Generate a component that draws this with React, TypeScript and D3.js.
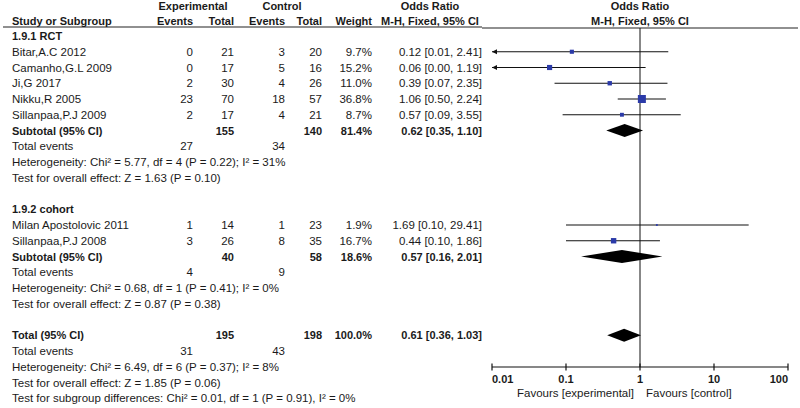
import React from "react";
import * as d3 from "d3";

// ---------- data ----------
const studyNames = [
  "Bitar,A.C 2012",
  "Camanho,G.L 2009",
  "Ji,G 2017",
  "Nikku,R 2005",
  "Sillanpaa,P.J 2009",
  "Milan Apostolovic 2011",
  "Sillanpaa,P.J 2008",
];
const studyGroup = [0, 0, 0, 0, 0, 1, 1];
const expEvents = [0, 0, 2, 23, 2, 1, 3];
const expTotals = [21, 17, 30, 70, 17, 14, 26];
const ctlEvents = [3, 5, 4, 18, 4, 1, 8];
const ctlTotals = [20, 16, 26, 57, 21, 23, 35];
const weights = [9.7, 15.2, 11.0, 36.8, 8.7, 1.9, 16.7];
const oddsRatios = [0.12, 0.06, 0.39, 1.06, 0.57, 1.69, 0.44];
const ciLower = [0.01, 0.0, 0.07, 0.5, 0.09, 0.1, 0.1];
const ciUpper = [2.41, 1.19, 2.35, 2.24, 3.55, 29.41, 1.86];

const groupLabels = ["1.9.1 RCT", "1.9.2 cohort"];
const subExpTotals = [155, 40];
const subCtlTotals = [140, 58];
const subWeights = [81.4, 18.6];
const subOR = [0.62, 0.57];
const subLower = [0.35, 0.16];
const subUpper = [1.1, 2.01];
const subExpEvents = [27, 4];
const subCtlEvents = [34, 9];
const subHeterogeneity = [
  "Heterogeneity: Chi² = 5.77, df = 4 (P = 0.22); I² = 31%",
  "Heterogeneity: Chi² = 0.68, df = 1 (P = 0.41); I² = 0%",
];
const subOverall = [
  "Test for overall effect: Z = 1.63 (P = 0.10)",
  "Test for overall effect: Z = 0.87 (P = 0.38)",
];

const totalExpTotal = 195;
const totalCtlTotal = 198;
const totalWeight = 100.0;
const totalOR = 0.61;
const totalLower = 0.36;
const totalUpper = 1.03;
const totalExpEvents = 31;
const totalCtlEvents = 43;
const totalHeterogeneity = "Heterogeneity: Chi² = 6.49, df = 6 (P = 0.37); I² = 8%";
const totalOverall = "Test for overall effect: Z = 1.85 (P = 0.06)";
const subgroupDiff = "Test for subgroup differences: Chi² = 0.01, df = 1 (P = 0.91), I² = 0%";

const axisTicks = [0.01, 0.1, 1, 10, 100];
const axisTickLabels = ["0.01", "0.1", "1", "10", "100"];
const favoursLeft = "Favours [experimental]";
const favoursRight = "Favours [control]";

// ---------- layout ----------
const W = 800;
const H = 408;
const FONT = "'Liberation Sans', Arial, sans-serif";
const FS = 11.5;
const FSB = 11;
const TXT = "#1a1a1a";
const SQ = "#2b3aa8";

const x = d3.scaleLog().domain([0.01, 100]).range([492, 788]);
const rowY = (i: number) => 36 + 15.75 * i;
const base = (i: number) => rowY(i) + 4;

const COL = { name: 12, expEv: 193, expTot: 234, ctlEv: 285, ctlTot: 322, weight: 372, ci: 482 };

const fmtCI = (o: number, l: number, u: number) =>
  `${o.toFixed(2)} [${l.toFixed(2)}, ${u.toFixed(2)}]`;

type Row =
  | { kind: "group"; g: number }
  | { kind: "study"; s: number }
  | { kind: "subtotal"; g: number }
  | { kind: "events"; e: number; c: number }
  | { kind: "text"; t: string }
  | { kind: "total" }
  | { kind: "blank" };

function buildRows(): Row[] {
  const rows: Row[] = [];
  groupLabels.forEach((_, g) => {
    rows.push({ kind: "group", g });
    studyNames.forEach((_, s) => {
      if (studyGroup[s] === g) rows.push({ kind: "study", s });
    });
    rows.push({ kind: "subtotal", g });
    rows.push({ kind: "events", e: subExpEvents[g], c: subCtlEvents[g] });
    rows.push({ kind: "text", t: subHeterogeneity[g] });
    rows.push({ kind: "text", t: subOverall[g] });
    rows.push({ kind: "blank" });
  });
  rows.push({ kind: "total" });
  rows.push({ kind: "events", e: totalExpEvents, c: totalCtlEvents });
  rows.push({ kind: "text", t: totalHeterogeneity });
  rows.push({ kind: "text", t: totalOverall });
  rows.push({ kind: "text", t: subgroupDiff });
  return rows;
}

function Diamond({ y, o, l, u }: { y: number; o: number; l: number; u: number }) {
  const h = 6.5;
  const d = `M${x(l)},${y} L${x(o)},${y - h} L${x(u)},${y} L${x(o)},${y + h} Z`;
  return <path d={d} fill="#000" />;
}

const T = (props: any) => (
  <text fontFamily={FONT} fontSize={FS} fill={TXT} {...props} />
);
const B = (props: any) => (
  <text fontFamily={FONT} fontSize={FSB} fontWeight="bold" fill={TXT} {...props} />
);

export default function App() {
  const rows = buildRows();
  const [xMin] = x.domain();

  return (
    <svg
      width={W}
      height={H}
      style={{ position: "absolute", left: 0, top: 0, background: "#fff" }}
    >
      <rect width={W} height={H} fill="#fff" />
      {/* headers */}
      <B x={193} y={10} textAnchor="middle">Experimental</B>
      <B x={282} y={10} textAnchor="middle">Control</B>
      <B x={430} y={10} textAnchor="middle">Odds Ratio</B>
      <B x={640} y={10} textAnchor="middle">Odds Ratio</B>
      <B x={COL.name} y={24.5}>Study or Subgroup</B>
      <B x={COL.expEv} y={24.5} textAnchor="end">Events</B>
      <B x={COL.expTot} y={24.5} textAnchor="end">Total</B>
      <B x={COL.ctlEv} y={24.5} textAnchor="end">Events</B>
      <B x={COL.ctlTot} y={24.5} textAnchor="end">Total</B>
      <B x={COL.weight} y={24.5} textAnchor="end">Weight</B>
      <B x={430} y={24.5} textAnchor="middle">M-H, Fixed, 95% CI</B>
      <B x={640} y={24.5} textAnchor="middle">M-H, Fixed, 95% CI</B>
      <line x1={3} x2={482} y1={27} y2={27} stroke="#222" strokeWidth={1.2} />
      <line x1={482} x2={798} y1={28} y2={28} stroke="#222" strokeWidth={1.2} />

      {/* vertical null line */}
      <line x1={x(1)} x2={x(1)} y1={28} y2={367} stroke="#111" strokeWidth={1} />

      {rows.map((r, i) => {
        const y = rowY(i);
        const b = base(i);
        if (r.kind === "group")
          return (
            <B key={i} x={COL.name} y={b}>{groupLabels[r.g]}</B>
          );
        if (r.kind === "study") {
          const s = r.s;
          const side = 1.32 * Math.sqrt(weights[s]);
          const clipped = ciLower[s] <= xMin;
          const lo = x(Math.max(ciLower[s], xMin));
          const hi = x(ciUpper[s]);
          return (
            <g key={i}>
              <T x={COL.name} y={b}>{studyNames[s]}</T>
              <T x={COL.expEv} y={b} textAnchor="end">{expEvents[s]}</T>
              <T x={COL.expTot} y={b} textAnchor="end">{expTotals[s]}</T>
              <T x={COL.ctlEv} y={b} textAnchor="end">{ctlEvents[s]}</T>
              <T x={COL.ctlTot} y={b} textAnchor="end">{ctlTotals[s]}</T>
              <T x={COL.weight} y={b} textAnchor="end">{weights[s].toFixed(1)}%</T>
              <T x={COL.ci} y={b} textAnchor="end">{fmtCI(oddsRatios[s], ciLower[s], ciUpper[s])}</T>
              <line x1={lo} x2={hi} y1={y} y2={y} stroke="#111" strokeWidth={1.2} />
              {clipped && (
                <path d={`M${lo},${y} L${lo + 5},${y - 2.5} L${lo + 5},${y + 2.5} Z`} fill="#111" />
              )}
              <rect
                x={x(oddsRatios[s]) - side / 2}
                y={y - side / 2}
                width={side}
                height={side}
                fill={SQ}
              />
            </g>
          );
        }
        if (r.kind === "subtotal") {
          const g = r.g;
          return (
            <g key={i}>
              <B x={COL.name} y={b}>Subtotal (95% CI)</B>
              <B x={COL.expTot} y={b} textAnchor="end">{subExpTotals[g]}</B>
              <B x={COL.ctlTot} y={b} textAnchor="end">{subCtlTotals[g]}</B>
              <B x={COL.weight} y={b} textAnchor="end">{subWeights[g].toFixed(1)}%</B>
              <B x={COL.ci} y={b} textAnchor="end">{fmtCI(subOR[g], subLower[g], subUpper[g])}</B>
              <Diamond y={y} o={subOR[g]} l={subLower[g]} u={subUpper[g]} />
            </g>
          );
        }
        if (r.kind === "events")
          return (
            <g key={i}>
              <T x={COL.name} y={b}>Total events</T>
              <T x={COL.expEv} y={b} textAnchor="end">{r.e}</T>
              <T x={COL.ctlEv} y={b} textAnchor="end">{r.c}</T>
            </g>
          );
        if (r.kind === "text")
          return (
            <T key={i} x={COL.name} y={b}>{r.t}</T>
          );
        if (r.kind === "total")
          return (
            <g key={i}>
              <B x={COL.name} y={b}>Total (95% CI)</B>
              <B x={COL.expTot} y={b} textAnchor="end">{totalExpTotal}</B>
              <B x={COL.ctlTot} y={b} textAnchor="end">{totalCtlTotal}</B>
              <B x={COL.weight} y={b} textAnchor="end">{totalWeight.toFixed(1)}%</B>
              <B x={COL.ci} y={b} textAnchor="end">{fmtCI(totalOR, totalLower, totalUpper)}</B>
              <Diamond y={y} o={totalOR} l={totalLower} u={totalUpper} />
            </g>
          );
        return null;
      })}

      {/* axis */}
      <line x1={x(0.01)} x2={x(100)} y1={367} y2={367} stroke="#111" strokeWidth={1.2} />
      {axisTicks.map((t, k) => (
        <g key={t}>
          <line x1={x(t)} x2={x(t)} y1={363.5} y2={370.5} stroke="#111" strokeWidth={1.2} />
          <B
            x={x(t)}
            y={383}
            textAnchor={k === 0 ? "start" : k === axisTicks.length - 1 ? "end" : "middle"}
          >
            {axisTickLabels[k]}
          </B>
        </g>
      ))}
      <T x={634} y={397} textAnchor="end">{favoursLeft}</T>
      <T x={646} y={397}>{favoursRight}</T>
    </svg>
  );
}
